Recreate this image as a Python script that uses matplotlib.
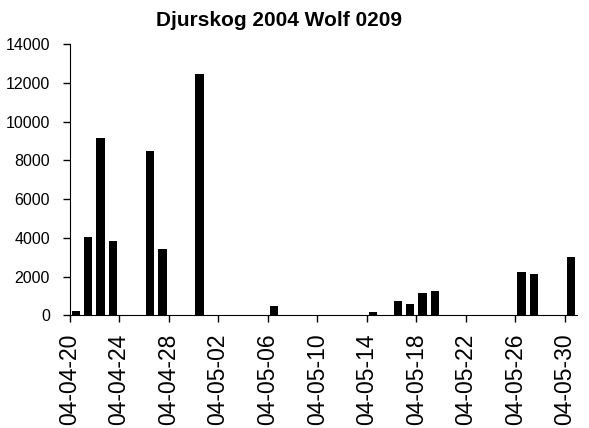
import matplotlib
matplotlib.use('Agg')
import matplotlib.pyplot as plt
import matplotlib.dates as mdates
import pandas as pd

plt.rcParams['font.family'] = ['Liberation Sans', 'DejaVu Sans']

# counts per day
dates = ['2004-04-20', '2004-04-21', '2004-04-22', '2004-04-23', '2004-04-26',
         '2004-04-27', '2004-04-30', '2004-05-06', '2004-05-14', '2004-05-16',
         '2004-05-17', '2004-05-18', '2004-05-19', '2004-05-26', '2004-05-27',
         '2004-05-30']
counts = [220, 4030, 9160, 3840, 8500, 3410, 12450, 465, 170, 740,
          585, 1170, 1260, 2240, 2120, 2990]
title = 'Djurskog 2004 Wolf 0209'

days = pd.to_datetime(dates)

fig = plt.figure(figsize=(5.89, 4.28), dpi=100)
ax = fig.add_axes([0.118, 0.263, 0.862, 0.634])

ax.bar(days + pd.Timedelta(hours=12), counts, width=0.67, color='black')

ax.set_xlim(pd.Timestamp('2004-04-20'), pd.Timestamp('2004-05-31'))
ax.set_ylim(0, 14000)
ax.set_yticks(range(0, 14001, 2000))

ticks = pd.date_range('2004-04-20', '2004-05-30', freq='4D')
ax.set_xticks(ticks)
ax.xaxis.set_major_formatter(mdates.DateFormatter('%y-%m-%d'))
plt.setp(ax.get_xticklabels(), rotation=90, fontsize=16.5)
plt.setp(ax.get_yticklabels(), fontsize=11.5)

ax.spines['top'].set_visible(False)
ax.spines['right'].set_visible(False)
ax.tick_params(axis='both', direction='out', length=5, width=1, color='black')
ax.tick_params(axis='x', pad=8)
ax.tick_params(axis='y', pad=9)

fig.text(0.474, 0.951, title, ha='center', va='center',
         fontsize=15, fontweight='bold')

fig.savefig('out.png', dpi=100)
